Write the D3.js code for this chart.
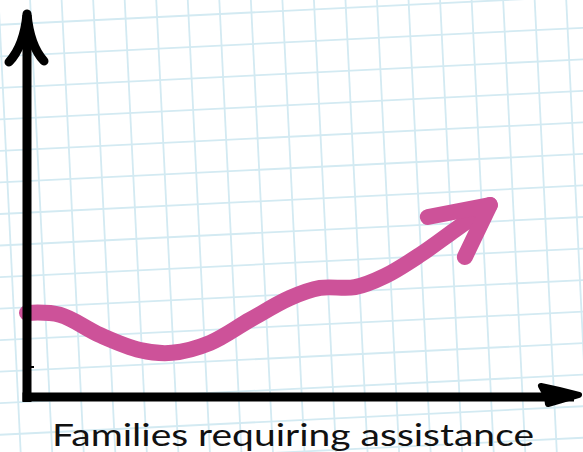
<!DOCTYPE html>
<html>
<head>
<meta charset="utf-8">
<script src="https://cdn.jsdelivr.net/npm/d3@7"></script>
<style>
  html, body { margin: 0; padding: 0; background: #fff; }
  svg { display: block; }
</style>
</head>
<body>
<svg id="chart" width="583" height="452"></svg>
<script>
// ---- data (arbitrary 0-100 units) ----
const xValues = [0, 5.9, 13.2, 20.4, 26.1, 33.0, 40.2, 47.4, 52.8, 59.1, 64.5, 70.8, 77.1, 83.4];
const yValues = [21.9, 21.4, 16.1, 12.2, 11.5, 14.1, 20.1, 25.8, 28.4, 28.6, 31.5, 37.0, 43.5, 50.0];
const axisLabel = "Families requiring assistance";

const W = 583, H = 452;
const svg = d3.select("#chart");

// background grid (slightly rotated notebook paper)
const grid = svg.append("g").attr("transform", "rotate(-2.8,220,14)");
const step = 31.5;
const vLines = d3.range(-12, 16).map(k => 220 + k * step);
const hLines = d3.range(-6, 20).map(k => 14 + k * step);
grid.selectAll("line.v").data(vLines).join("line")
  .attr("x1", d => d).attr("x2", d => d).attr("y1", -200).attr("y2", 700)
  .attr("stroke", "#d3eaf2").attr("stroke-width", 1.8);
grid.selectAll("line.h").data(hLines).join("line")
  .attr("y1", d => d).attr("y2", d => d).attr("x1", -200).attr("x2", 800)
  .attr("stroke", "#d3eaf2").attr("stroke-width", 1.8);

// scales
const x = d3.scaleLinear().domain([0, 100]).range([27, 582]);
const y = d3.scaleLinear().domain([0, 100]).range([397, 13]);

// pink trend curve
const pts = xValues.map((v, i) => [x(v), y(yValues[i])]);
const line = d3.line().curve(d3.curveCatmullRom.alpha(0.5));
const pink = "#cd5299";
svg.append("path").attr("d", line(pts))
  .attr("fill", "none").attr("stroke", pink).attr("stroke-width", 16)
  .attr("stroke-linecap", "round");
// arrowhead on curve end
const tip = pts[pts.length - 1];
svg.append("path")
  .attr("d", `M${tip[0]-62},${tip[1]+12} L${tip[0]},${tip[1]} L${tip[0]-25},${tip[1]+52}`)
  .attr("fill", "none").attr("stroke", pink).attr("stroke-width", 16)
  .attr("stroke-linecap", "round").attr("stroke-linejoin", "round");

// axes
const x0 = x(0), y0 = y(0);
svg.append("line").attr("x1", x0).attr("x2", x0).attr("y1", y(100) + 2).attr("y2", y0 + 5)
  .attr("stroke", "#000").attr("stroke-width", 9).attr("stroke-linecap", "butt");
svg.append("line").attr("x1", x0 - 4.5).attr("x2", x(100) - 8).attr("y1", y0).attr("y2", y0)
  .attr("stroke", "#000").attr("stroke-width", 9);
// small nub on y axis
svg.append("line").attr("x1", x0 + 3).attr("x2", x0 + 7).attr("y1", y0 - 30).attr("y2", y0 - 30)
  .attr("stroke", "#000").attr("stroke-width", 2);
// y arrowhead
const ty = y(100) + 1;
svg.append("path")
  .attr("d", `M${x0-18},${ty+48} Q${x0-3},${ty+32} ${x0},${ty} Q${x0+3},${ty+32} ${x0+17},${ty+47}`)
  .attr("fill", "none").attr("stroke", "#000").attr("stroke-width", 9)
  .attr("stroke-linecap", "round").attr("stroke-linejoin", "round");
// x arrowhead
const tx = x(100) - 3;
svg.append("path")
  .attr("d", `M${tx-38},${y0-11} Q${tx-18},${y0-7} ${tx},${y0-2} Q${tx-16},${y0+3} ${tx-31},${y0+7} L${tx-32},${y0} Z`)
  .attr("fill", "#000").attr("stroke", "#000").attr("stroke-width", 6)
  .attr("stroke-linecap", "round").attr("stroke-linejoin", "round");

// axis label
svg.append("text")
  .attr("x", 293).attr("y", 446)
  .attr("text-anchor", "middle")
  .attr("font-family", "Lato, 'Open Sans', sans-serif")
  .attr("font-size", 31)
  .attr("textLength", 482).attr("lengthAdjust", "spacingAndGlyphs")
  .attr("fill", "#111")
  .text(axisLabel);
</script>
</body>
</html>
